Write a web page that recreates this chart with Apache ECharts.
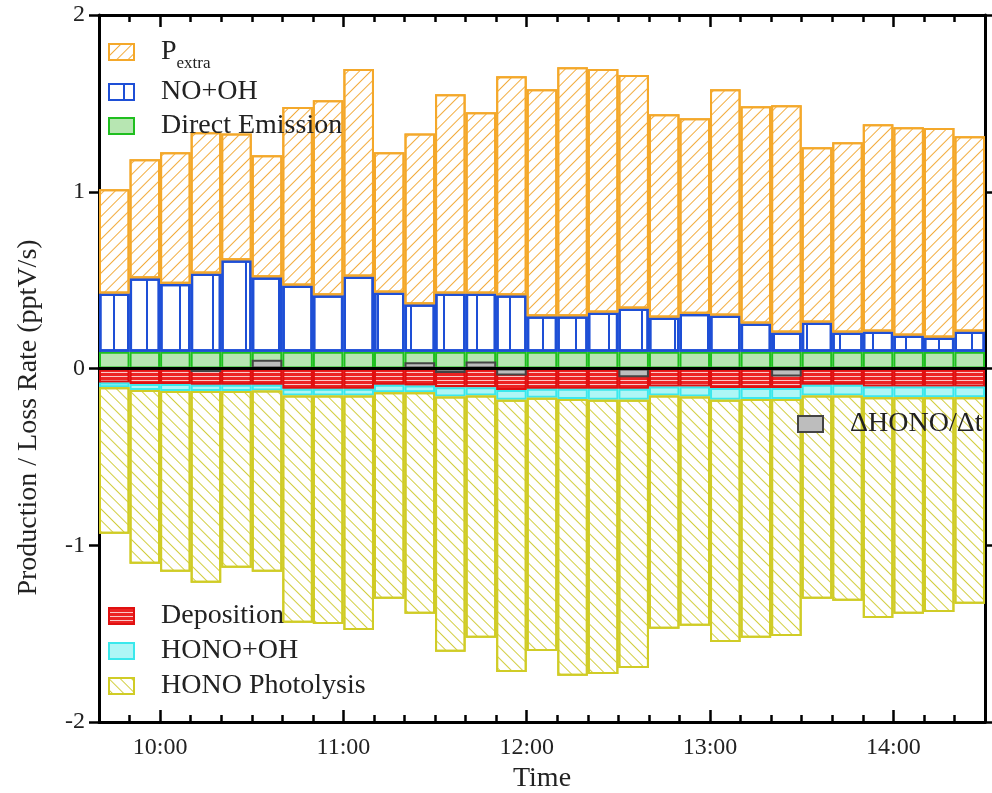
<!DOCTYPE html>
<html>
<head>
<meta charset="utf-8">
<script src="https://cdn.jsdelivr.net/npm/echarts@6/dist/echarts.min.js"></script>
<style>
html,body{margin:0;padding:0;background:#fff;}
#chart{width:992px;height:793px;}
</style>
</head>
<body>
<div id="chart"></div>
<script>
// start time of every 10 min bar
var times = ['9:40','9:50','10:00','10:10','10:20','10:30','10:40','10:50',
	'11:00','11:10','11:20','11:30','11:40','11:50','12:00','12:10','12:20','12:30','12:40','12:50',
	'13:00','13:10','13:20','13:30','13:40','13:50','14:00','14:10','14:20'];
var hourTicks = [600, 660, 720, 780, 840];//minutes of the day

// production terms (pptV/s)
var emission = [0.095,0.095,0.095,0.095,0.095,0.095,0.095,0.095,0.095,0.095,0.095,0.095,0.095,0.095,0.095,
	0.095,0.095,0.095,0.095,0.095,0.095,0.095,0.095,0.095,0.095,0.095,0.095,0.095,0.095];
var noOH = [0.33,0.415,0.385,0.443,0.517,0.421,0.375,0.319,0.426,0.335,0.268,0.33,0.33,0.319,0.2,
	0.2,0.222,0.245,0.194,0.215,0.205,0.16,0.109,0.165,0.109,0.115,0.092,0.081,0.115];
var pExtra = [0.589,0.674,0.744,0.799,0.718,0.691,1.009,1.104,1.173,0.794,0.967,1.127,1.025,1.24,1.285,
	1.41,1.377,1.32,1.15,1.106,1.28,1.229,1.286,0.992,1.076,1.172,1.178,1.184,1.104];

// loss terms (pptV/s)
var deposition = [-0.079,-0.087,-0.087,-0.092,-0.092,-0.092,-0.115,-0.115,-0.115,-0.092,-0.096,-0.106,-0.106,-0.121,-0.115,
	-0.115,-0.115,-0.115,-0.102,-0.102,-0.111,-0.111,-0.111,-0.092,-0.092,-0.102,-0.102,-0.102,-0.102];
var honoOH = [-0.027,-0.034,-0.041,-0.036,-0.036,-0.033,-0.038,-0.038,-0.038,-0.042,-0.038,-0.053,-0.047,-0.056,-0.051,
	-0.057,-0.062,-0.062,-0.051,-0.057,-0.066,-0.061,-0.061,-0.061,-0.061,-0.06,-0.06,-0.06,-0.06];
var photolysis = [-0.829,-0.984,-1.022,-1.084,-0.999,-1.025,-1.286,-1.292,-1.326,-1.169,-1.254,-1.444,-1.371,-1.54,-1.432,
	-1.567,-1.551,-1.517,-1.32,-1.297,-1.37,-1.352,-1.341,-1.15,-1.161,-1.249,-1.226,-1.215,-1.169];

// dHONO/dt
var dHONO = [null,null,null,-0.02,null,0.05,null,null,null,null,0.035,-0.025,0.04,-0.04,null,
	null,null,-0.05,null,null,null,null,-0.045,null,null,null,null,null,null];

var fontName = 'Liberation Serif';
var txtColor = '#222';

function timeLabel(v){
	var h = Math.floor(v/60), m = v%60;
	return h+':'+(m<10?'0':'')+m;
}
function legendText(name){
	if(name=='Pextra'){
		return '{p|P}{s|extra}';
	}
	return '{n|'+name+'}';
}
var legendStyle = {
	color: txtColor, fontFamily: fontName, fontSize: 28,
	rich: {
		n: {fontSize: 28, fontFamily: fontName, color: txtColor, padding: [0,0,0,22]},
		p: {fontSize: 28, fontFamily: fontName, color: txtColor, padding: [6,0,6,22], verticalAlign: 'middle'},
		s: {fontSize: 17, fontFamily: fontName, color: txtColor, verticalAlign: 'bottom'}
	}
};

function bar(name, data, itemStyle){
	return {
		name: name,
		type: 'bar',
		stack: 'total',
		xAxisIndex: 0,
		yAxisIndex: 0,
		barCategoryGap: '0%',
		barGap: '-100%',
		data: data,
		itemStyle: itemStyle,
		emphasis: {disabled: true}
	};
}

var seriesList = [
	bar('Direct Emission', emission, {color: '#b7e6b2', borderColor: '#1fbf1f', borderWidth: 2}),
	bar('NO+OH', noOH, {color: '#fff', borderColor: '#1e4fd6', borderWidth: 2.5,
		decal: {symbol: 'rect', symbolSize: 1, color: '#1e4fd6', dashArrayX: [0,14,2,17], dashArrayY: [1,0]}}),
	bar('Pextra', pExtra, {color: '#fff', borderColor: '#f4a82a', borderWidth: 2,
		decal: {symbol: 'rect', symbolSize: 1, color: '#f2ac3e', dashArrayX: [1,0], dashArrayY: [1,7], rotation: -Math.PI/4}}),
	bar('Deposition', deposition, {color: '#ec2424', borderColor: '#e01010', borderWidth: 2,
		decal: {symbol: 'rect', symbolSize: 1, color: 'rgba(255,255,255,0.75)', dashArrayX: [1,0], dashArrayY: [1,3]}}),
	bar('HONO+OH', honoOH, {color: '#aef6f6', borderColor: '#3ae8ec', borderWidth: 2}),
	bar('HONO Photolysis', photolysis, {color: '#fff', borderColor: '#d0cc26', borderWidth: 2,
		decal: {symbol: 'rect', symbolSize: 1, color: '#d2ce40', dashArrayX: [1,0], dashArrayY: [1,7], rotation: Math.PI/4}})
];
var dSeries = bar('ΔHONO/Δt', dHONO, {color: '#bdbdbd', borderColor: '#444', borderWidth: 2});
dSeries.stack = null;
dSeries.z = 3;
seriesList.push(dSeries);

var tickLine = {color: '#000', width: 2.5};
var myChart = echarts.init(document.getElementById('chart'));
var option = {
	animation: false,
	backgroundColor: '#fff',
	grid: {left: 99, right: 7, top: 15, bottom: 71, containLabel: false, outerBoundsMode: 'none'},
	legend: [
		{data: ['Pextra','NO+OH','Direct Emission'], orient: 'vertical', left: 108, top: 38, padding: 0, itemWidth: 25, itemHeight: 16,
			itemGap: 6, icon: 'rect', selectedMode: false, formatter: legendText, textStyle: legendStyle},
		{data: ['Deposition','HONO+OH','HONO Photolysis'], orient: 'vertical', left: 108, top: 602, padding: 0, itemWidth: 25, itemHeight: 16,
			itemGap: 7, icon: 'rect', selectedMode: false, formatter: legendText, textStyle: legendStyle},
		{data: ['ΔHONO/Δt'], orient: 'vertical', left: 797, top: 410, padding: 0, itemWidth: 25, itemHeight: 16,
			icon: 'rect', selectedMode: false, formatter: legendText, textStyle: legendStyle}
	],
	xAxis: [
		{//bars + zero line
			type: 'category', data: times, position: 'bottom', boundaryGap: true, z: 10,
			axisLine: {show: true, onZero: true, lineStyle: {color: '#000', width: 3}},
			axisTick: {show: false}, axisLabel: {show: false}, splitLine: {show: false}
		},
		{
			type: 'value', position: 'bottom', min: 580, max: 870, interval: 10,
			axisLine: {show: true, onZero: false, lineStyle: {color: '#000', width: 3}},
			axisTick: {show: true, inside: true, length: 7, lineStyle: tickLine},
			axisLabel: {show: false}, splitLine: {show: false}
		},
		{
			type: 'value', position: 'bottom', min: 580, max: 870, interval: 10,
			name: 'Time', nameLocation: 'middle', nameGap: 42,
			nameTextStyle: {fontFamily: fontName, fontSize: 28, color: txtColor},
			axisLine: {show: false, onZero: false},
			axisTick: {show: true, inside: true, length: 12, customValues: hourTicks, lineStyle: tickLine},
			axisLabel: {show: true, customValues: hourTicks, margin: 14, fontFamily: fontName, fontSize: 24, color: txtColor,
				formatter: function(v){ return v%60===0 ? timeLabel(v) : ''; }},
			splitLine: {show: false}
		},
		{
			type: 'value', position: 'top', min: 580, max: 870, interval: 10,
			axisLine: {show: true, onZero: false, lineStyle: {color: '#000', width: 3}},
			axisTick: {show: true, inside: true, length: 7, lineStyle: tickLine},
			axisLabel: {show: false}, splitLine: {show: false}
		},
		{
			type: 'value', position: 'top', min: 580, max: 870, interval: 10,
			axisLine: {show: false, onZero: false},
			axisTick: {show: true, inside: true, length: 12, customValues: hourTicks, lineStyle: tickLine},
			axisLabel: {show: false}, splitLine: {show: false}
		}
	],
	yAxis: [
		{
			type: 'value', position: 'left', min: -2, max: 2, interval: 1,
			name: 'Production / Loss Rate (pptV/s)', nameLocation: 'middle', nameGap: 56,
			nameTextStyle: {fontFamily: fontName, fontSize: 28, color: txtColor, padding: [0,98,0,0]},
			axisLine: {show: true, onZero: false, lineStyle: {color: '#000', width: 3}},
			axisTick: {show: true, inside: false, length: 10, lineStyle: tickLine},
			axisLabel: {margin: 14, fontFamily: fontName, fontSize: 24, color: txtColor},
			splitLine: {show: false}
		},
		{
			type: 'value', position: 'right', min: -2, max: 2, interval: 1,
			axisLine: {show: true, onZero: false, lineStyle: {color: '#000', width: 3}},
			axisTick: {show: true, inside: false, length: 7, lineStyle: tickLine},
			axisLabel: {show: false}, splitLine: {show: false}
		}
	],
	series: seriesList
};
myChart.setOption(option);
</script>
</body>
</html>
